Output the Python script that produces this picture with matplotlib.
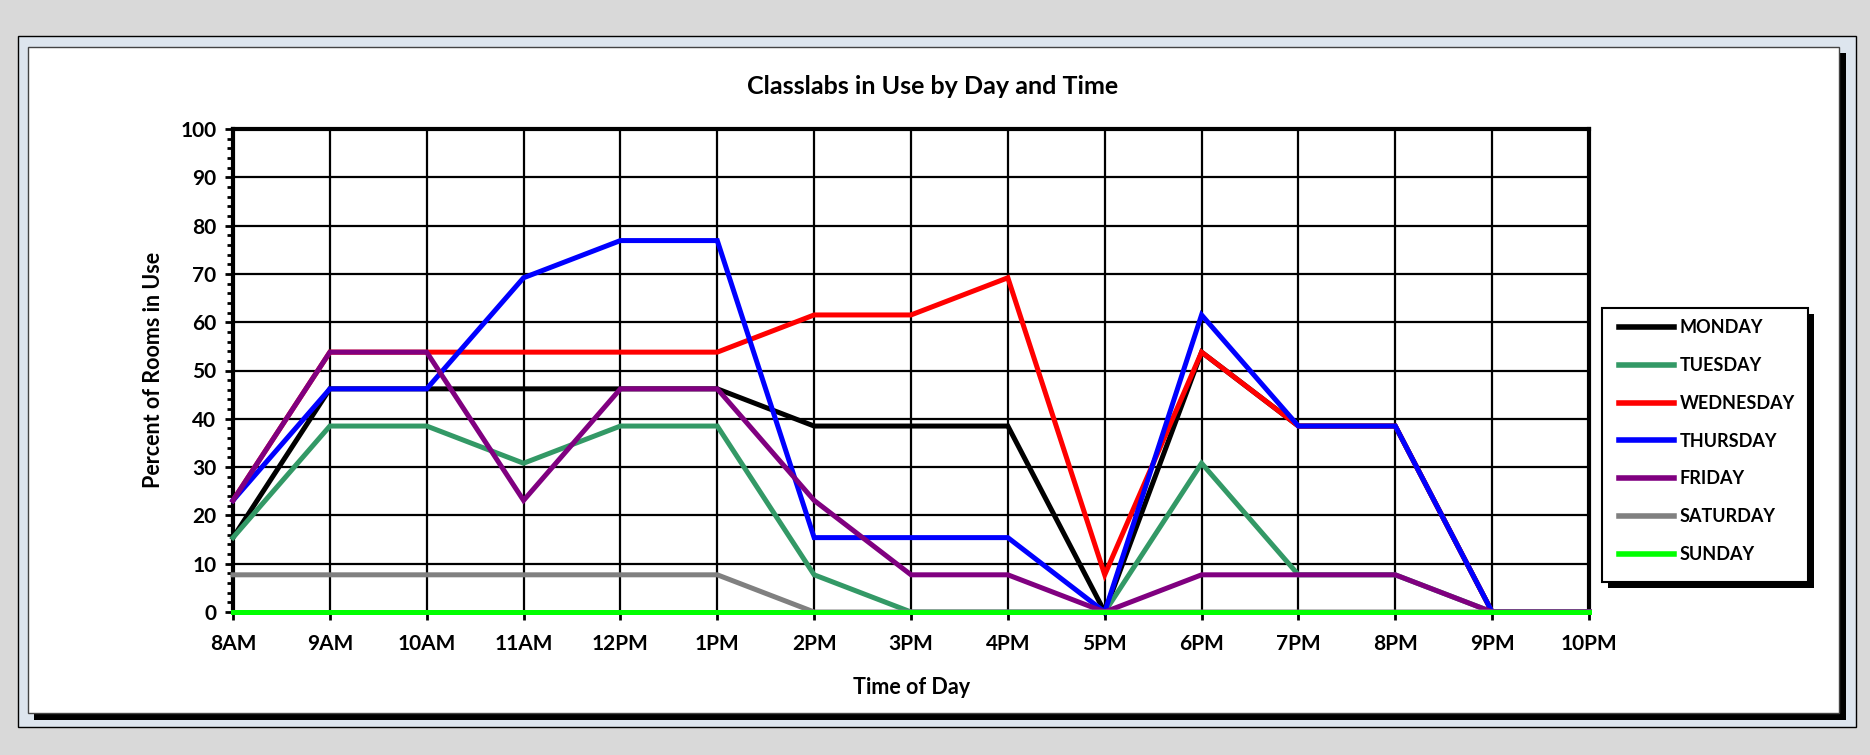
import matplotlib
matplotlib.use("Agg")
import matplotlib.pyplot as plt
from matplotlib.patches import Rectangle
from matplotlib.ticker import MultipleLocator

# 13 classlabs -> values are multiples of 100/13
times = ['8AM', '9AM', '10AM', '11AM', '12PM', '1PM', '2PM', '3PM',
         '4PM', '5PM', '6PM', '7PM', '8PM', '9PM', '10PM']

monday    = [15.4, 46.2, 46.2, 46.2, 46.2, 46.2, 38.5, 38.5, 38.5, 0, 53.8, 38.5, 38.5, 0, 0]
tuesday   = [15.4, 38.5, 38.5, 30.8, 38.5, 38.5, 7.7, 0, 0, 0, 30.8, 7.7, 7.7, 0, 0]
wednesday = [23.1, 53.8, 53.8, 53.8, 53.8, 53.8, 61.5, 61.5, 69.2, 7.7, 53.8, 38.5, 38.5, 0, 0]
thursday  = [23.1, 46.2, 46.2, 69.2, 76.9, 76.9, 15.4, 15.4, 15.4, 0, 61.5, 38.5, 38.5, 0, 0]
friday    = [23.1, 53.8, 53.8, 23.1, 46.2, 46.2, 23.1, 7.7, 7.7, 0, 7.7, 7.7, 7.7, 0, 0]
saturday  = [7.7, 7.7, 7.7, 7.7, 7.7, 7.7, 0, 0, 0, 0, 0, 0, 0, 0, 0]
sunday    = [0] * 15

series = [
    ('MONDAY', monday, '#000000'),
    ('TUESDAY', tuesday, '#339966'),
    ('WEDNESDAY', wednesday, '#ff0000'),
    ('THURSDAY', thursday, '#0000ff'),
    ('FRIDAY', friday, '#800080'),
    ('SATURDAY', saturday, '#808080'),
    ('SUNDAY', sunday, '#00ff00'),
]

W, H = 1870, 755
FONT = 'Lato'


def fx(px):
    return px / W


def fy(py):
    return 1 - py / H


def rect(fig, x0, y0, x1, y1, z, **kw):
    fig.patches.append(Rectangle((fx(x0), fy(y1)), fx(x1) - fx(x0), fy(y0) - fy(y1),
                                 transform=fig.transFigure, zorder=z, **kw))


fig = plt.figure(figsize=(W / 100, H / 100), dpi=100)
fig.patch.set_facecolor('#d9d9d9')

# frame: light blue border, black shadow, white panel
rect(fig, 18, 36, 1856, 727, -10, facecolor='#dde5ee', edgecolor='black', linewidth=1)
rect(fig, 34, 53, 1846, 720, -9, facecolor='black', edgecolor='none')
rect(fig, 28, 47, 1839, 713, -8, facecolor='white', edgecolor='#444444', linewidth=1)

# legend box with shadow
rect(fig, 1608, 314, 1814, 588, -7, facecolor='black', edgecolor='none')
rect(fig, 1602, 308, 1808, 582, -6, facecolor='white', edgecolor='black', linewidth=1.5)

ax = fig.add_axes([fx(233), fy(612), fx(1589) - fx(233), fy(129) - fy(612)])
ax.set_facecolor('white')

for name, vals, col in series:
    ax.plot(range(len(times)), vals, color=col, lw=3.6, label=name,
            solid_joinstyle='miter', clip_on=False, zorder=3)

ax.set_xlim(0, len(times) - 1)
ax.set_ylim(0, 100)
ax.set_xticks(range(len(times)))
ax.set_xticklabels(times)
ax.yaxis.set_major_locator(MultipleLocator(10))
ax.yaxis.set_minor_locator(MultipleLocator(2))
ax.grid(True, which='major', color='black', lw=1.6)
ax.set_axisbelow(True)

for s in ['left', 'top', 'right']:
    ax.spines[s].set_linewidth(3)
ax.spines['bottom'].set_linewidth(1.5)

ax.tick_params(axis='both', which='major', direction='out', length=6, width=2,
               labelsize=15, pad=6)
ax.tick_params(axis='y', which='minor', direction='out', length=4, width=2)
ax.tick_params(axis='x', pad=10)
for lab in ax.get_xticklabels() + ax.get_yticklabels():
    lab.set_fontweight('bold')
    lab.set_family(FONT)

fig.text(fx(933), fy(87), 'Classlabs in Use by Day and Time', fontsize=18,
         fontweight='bold', family=FONT, ha='center', va='center')
fig.text(fx(912), fy(688), 'Time of Day', fontsize=15.5, fontweight='bold',
         family=FONT, ha='center', va='center')
fig.text(fx(154), fy(370), 'Percent of Rooms in Use', fontsize=15.5, fontweight='bold',
         family=FONT, ha='center', va='center', rotation=90)

leg = ax.legend(loc='upper left', bbox_to_anchor=(fx(1614), fy(314)),
                bbox_transform=fig.transFigure, frameon=False,
                prop={'family': FONT, 'weight': 'bold', 'size': 13},
                handlelength=3.0, handletextpad=0.35, labelspacing=1.15,
                borderaxespad=0, borderpad=0.3)
for h in leg.get_lines():
    h.set_linewidth(4)

fig.savefig('out.png', dpi=100, facecolor=fig.get_facecolor())
